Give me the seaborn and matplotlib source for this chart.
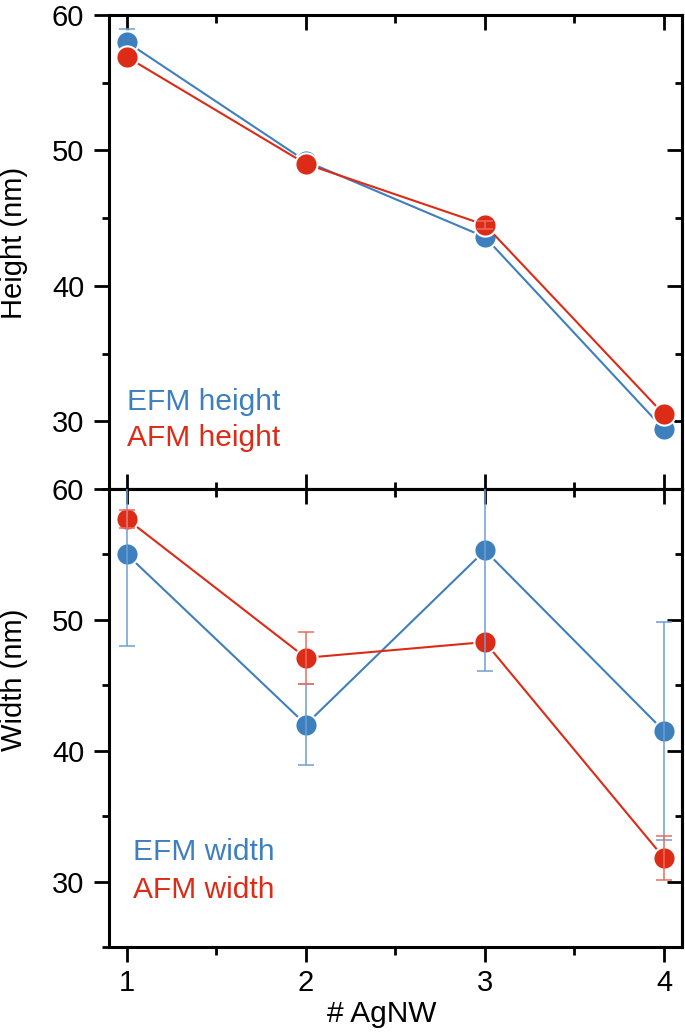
import matplotlib
matplotlib.use('Agg')
import numpy as np
import pandas as pd
import seaborn as sns
import matplotlib.pyplot as plt
from matplotlib.ticker import MultipleLocator

# 数据
n_agnw = [1, 2, 3, 4]
efm_height = [58.0, 49.2, 43.6, 29.4]
efm_height_err = [1.0, 0.4, 0.0, 0.0]
afm_height = [56.9, 49.0, 44.5, 30.5]
afm_height_err = [0.0, 0.0, 0.3, 0.0]
efm_width = [55.0, 42.0, 55.3, 41.5]
efm_width_err = [7.0, 3.1, 9.2, 8.3]
afm_width = [57.7, 47.1, 48.3, 31.8]
afm_width_err = [0.7, 2.0, 0.0, 1.7]

BLUE = '#3e7fbd'
RED = '#dc2b16'
BLUE_ERR = '#6d9fd4'
RED_ERR = '#ee6b5b'

sns.set_style('ticks')
plt.rcParams['font.family'] = ['Liberation Sans', 'DejaVu Sans']
plt.rcParams['axes.linewidth'] = 2.2
for k in ['text.color', 'axes.labelcolor', 'xtick.color', 'ytick.color',
          'axes.edgecolor']:
    plt.rcParams[k] = 'black'

fig = plt.figure(figsize=(6.85, 10.32), dpi=100)
ax1 = fig.add_axes([0.159, 0.5262, 0.8365, 0.4593])
ax2 = fig.add_axes([0.159, 0.0824, 0.8365, 0.4438])


def draw_panel(ax, efm, efm_err, afm, afm_err, names, efm_err_z=5):
    df = pd.DataFrame({
        'n': n_agnw * 2,
        'value': efm + afm,
        'series': [names[0]] * 4 + [names[1]] * 4,
    })
    sns.lineplot(data=df, x='n', y='value', hue='series',
                 hue_order=names, palette={names[0]: BLUE, names[1]: RED},
                 marker='o', markersize=16, markeredgecolor='white',
                 markeredgewidth=1.5, linewidth=1.5, errorbar=None,
                 legend=False, ax=ax)
    # 误差棒 (误差为0的点不画)
    for vals, err, c, z in [(efm, efm_err, BLUE_ERR, efm_err_z),
                            (afm, afm_err, RED_ERR, 5)]:
        keep = np.array(err) > 0
        ax.errorbar(np.array(n_agnw)[keep], np.array(vals)[keep],
                    yerr=np.array(err)[keep], fmt='none', ecolor=c,
                    elinewidth=1.1, capsize=5.5, capthick=1.1, zorder=z)
    ax.set_xlim(0.9, 4.1)
    ax.set_ylim(25, 60)
    ax.xaxis.set_major_locator(MultipleLocator(1))
    ax.xaxis.set_minor_locator(MultipleLocator(0.5))
    ax.yaxis.set_major_locator(MultipleLocator(10))
    ax.yaxis.set_minor_locator(MultipleLocator(5))
    ax.tick_params(axis='y', which='major', direction='out', length=10.8,
                   width=2.0, labelsize=21, pad=7, right=False)
    ax.tick_params(axis='y', which='minor', direction='out', length=5.4,
                   width=2.0, right=False)
    # 右侧刻度朝内
    sec = ax.secondary_yaxis('right')
    sec.yaxis.set_major_locator(MultipleLocator(10))
    sec.yaxis.set_minor_locator(MultipleLocator(5))
    sec.tick_params(axis='y', which='major', direction='in', length=10.8,
                    width=2.0, labelright=False)
    sec.tick_params(axis='y', which='minor', direction='in', length=5.4,
                    width=2.0)
    sec.spines['right'].set_linewidth(2.2)
    for s in ax.spines.values():
        s.set_visible(True)
        s.set_linewidth(2.2)
        s.set_color('black')


draw_panel(ax1, efm_height, efm_height_err, afm_height, afm_height_err,
           ['EFM height', 'AFM height'], efm_err_z=1.5)
draw_panel(ax2, efm_width, efm_width_err, afm_width, afm_width_err,
           ['EFM width', 'AFM width'])

# 上图: x 刻度朝内, 上下都有
ax1.tick_params(axis='x', which='major', direction='in', length=10.8,
                width=2.0, top=True, bottom=True, labelbottom=False)
ax1.tick_params(axis='x', which='minor', direction='in', length=5.4,
                width=2.0, top=True, bottom=True)
ax1.set_xlabel('')
ax1.set_ylabel('Height (nm)', fontsize=21)
ax1.yaxis.set_label_coords(-0.141, 0.52)
ax1.text(0.031, 0.183, 'EFM height', color=BLUE, fontsize=21.5,
         transform=ax1.transAxes, va='center', ha='left')
ax1.text(0.031, 0.107, 'AFM height', color=RED, fontsize=21.5,
         transform=ax1.transAxes, va='center', ha='left')

# 下图: 底部朝外, 顶部朝内
ax2.tick_params(axis='x', which='major', direction='out', length=10.8,
                width=2.0, labelsize=21, pad=5, top=False)
ax2.tick_params(axis='x', which='minor', direction='out', length=5.4,
                width=2.0, top=False)
sec_top = ax2.secondary_xaxis('top')
sec_top.xaxis.set_major_locator(MultipleLocator(1))
sec_top.xaxis.set_minor_locator(MultipleLocator(0.5))
sec_top.tick_params(axis='x', which='major', direction='in', length=10.8,
                    width=2.0, labeltop=False)
sec_top.tick_params(axis='x', which='minor', direction='in', length=5.4,
                    width=2.0)
sec_top.spines['top'].set_linewidth(2.2)
ax2.set_xlabel('# AgNW', fontsize=21.5)
ax2.xaxis.set_label_coords(0.476, -0.116)
ax2.set_ylabel('Width (nm)', fontsize=21)
ax2.yaxis.set_label_coords(-0.141, 0.584)
ax2.text(0.042, 0.208, 'EFM width', color=BLUE, fontsize=21.5,
         transform=ax2.transAxes, va='center', ha='left')
ax2.text(0.042, 0.125, 'AFM width', color=RED, fontsize=21.5,
         transform=ax2.transAxes, va='center', ha='left')

fig.savefig('out.png', dpi=100)
